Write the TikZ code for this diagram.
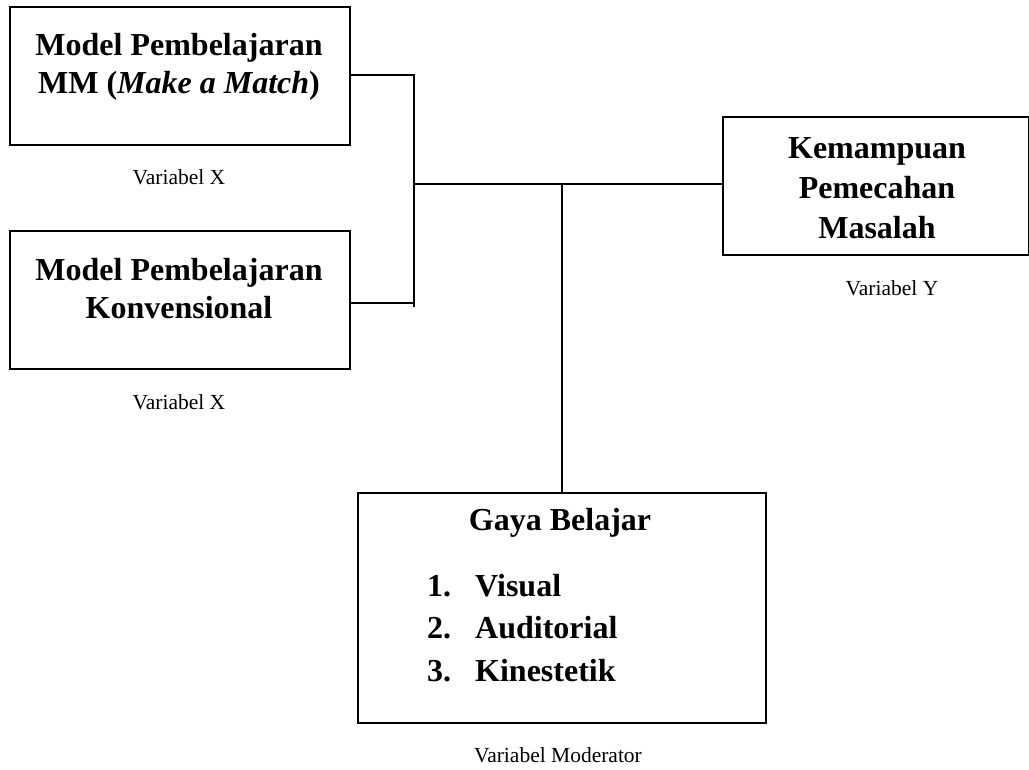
\documentclass[tikz,border=0pt]{standalone}
\usepackage{fontspec}
\setmainfont{Liberation Serif}
\begin{document}
\begin{tikzpicture}[x=1pt,y=-1pt,
  box/.style={draw=black,line width=2.6pt,inner sep=0pt},
  title/.style={font=\fontsize{32}{38}\selectfont\bfseries,align=center,inner sep=0pt},
  varlabel/.style={font=\fontsize{21.5}{25}\selectfont,inner sep=0pt},
  conn/.style={draw=black,line width=1.2pt}]
\useasboundingbox (0,0) rectangle (1029,770);
% boxes
\node[box,minimum width=340pt,minimum height=138pt] (b1) at (180,76) {};
\node[box,minimum width=340pt,minimum height=138pt] (b2) at (180,300) {};
\node[box,minimum width=306pt,minimum height=138pt] (b3) at (876,186) {};
\node[box,minimum width=408pt,minimum height=230pt] (b4) at (562,608) {};
% titles
\node[title] (t1) at (179,67) {Model Pembelajaran\\MM (\textit{Make a Match})};
\node[title] (t2) at (179,289) {Model Pembelajaran\\Konvensional};
\node[title,font=\fontsize{32}{40}\selectfont\bfseries] (t3) at (877,188) {Kemampuan\\Pemecahan\\Masalah};
\node[title] (t4) at (560,523) {Gaya Belajar};
\node[title,align=left,anchor=west,font=\fontsize{32}{42.5}\selectfont\bfseries] (t5) at (427,628)
  {\makebox[48pt][l]{1.}Visual\\\makebox[48pt][l]{2.}Auditorial\\\makebox[48pt][l]{3.}Kinestetik};
% labels
\node[varlabel] (l1) at (179,177) {Variabel X};
\node[varlabel] (l2) at (179,402) {Variabel X};
\node[varlabel] (l3) at (892,288) {Variabel Y};
\node[varlabel] (l4) at (558,755) {Variabel Moderator};
% connectors
\coordinate (j1) at (414,75);
\coordinate (j2) at (414,303);
\coordinate (j3) at (414,307);
\coordinate (jh) at (414,184);
\coordinate (jm) at (562,184);
\draw[conn] (b1.east |- j1) -- (j1) -- (j3);
\draw[conn] (b2.east |- j2) -- (j2);
\draw[conn] (jh) -- (b3.west |- jh);
\draw[conn] (jm) -- (jm |- b4.north);
\end{tikzpicture}
\end{document}
